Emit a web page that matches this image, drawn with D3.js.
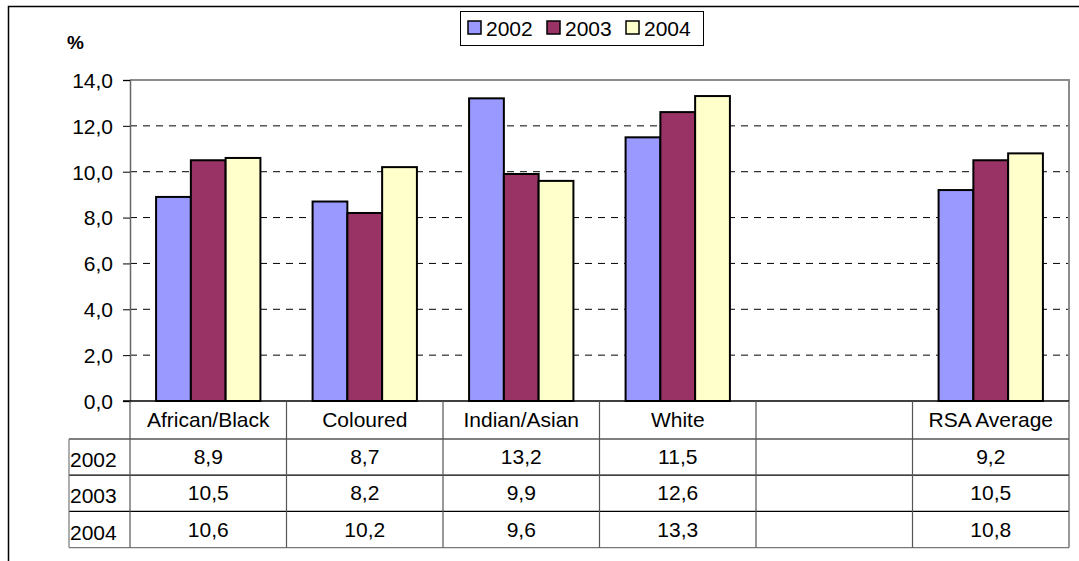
<!DOCTYPE html>
<html>
<head>
<meta charset="utf-8">
<script src="https://cdn.jsdelivr.net/npm/d3@7"></script>
<style>
  body { margin: 0; background: #fff; }
  svg { display: block; font-family: "Liberation Sans", Arial, sans-serif; }
</style>
</head>
<body>
<svg id="chart" width="1079" height="561"></svg>
<script>
// data
const categories = ["African/Black", "Coloured", "Indian/Asian", "White", "", "RSA Average"];
const years = ["2002", "2003", "2004"];
const values2002 = [8.9, 8.7, 13.2, 11.5, null, 9.2];
const values2003 = [10.5, 8.2, 9.9, 12.6, null, 10.5];
const values2004 = [10.6, 10.2, 9.6, 13.3, null, 10.8];
const yTicks = [0, 2, 4, 6, 8, 10, 12, 14];

const series = [
  { year: "2002", values: values2002, color: "#9999ff" },
  { year: "2003", values: values2003, color: "#993366" },
  { year: "2004", values: values2004, color: "#ffffcc" }
];

const fs = 21;
const fmt = v => d3.format(".1f")(v).replace(".", ",");

const svg = d3.select("#chart");
const plot = { left: 130, right: 1069, top: 80, bottom: 401 };
const rowH = 36.2, headH = 38;

// outer chart border (top and left only, cut off on the others)
svg.append("path")
  .attr("d", "M8.5,561 V6.5 H1079")
  .attr("fill", "none").attr("stroke", "#000").attr("stroke-width", 1.5);

const x = d3.scaleBand().domain(d3.range(categories.length)).range([plot.left, plot.right]);
const gap = x.bandwidth() / 6;
const x1 = d3.scaleBand().domain(years).range([gap, x.bandwidth() - gap]);
const y = d3.scaleLinear().domain([0, 14]).range([plot.bottom, plot.top]);

// gridlines
svg.append("g").selectAll("line")
  .data(yTicks.filter(d => d > 0 && d < 14))
  .join("line")
  .attr("x1", plot.left).attr("x2", plot.right)
  .attr("y1", d => y(d)).attr("y2", d => y(d))
  .attr("stroke", "#000").attr("stroke-dasharray", "7,6");

// plot area border
svg.append("path")
  .attr("d", `M${plot.left},${y(14)} H${plot.right} V${plot.bottom}`)
  .attr("fill", "none").attr("stroke", "#8c8c8c").attr("stroke-width", 2);

// y axis
const yAxis = svg.append("g")
  .attr("transform", `translate(${plot.left},0)`)
  .call(d3.axisLeft(y).tickValues(yTicks).tickSize(7).tickPadding(10).tickFormat(fmt));
yAxis.select(".domain").attr("stroke", "#666").attr("stroke-width", 1.5);
yAxis.selectAll(".tick line").attr("stroke", "#000");
yAxis.selectAll("text").attr("font-size", fs).attr("fill", "#000").attr("dy", "0.35em")
  .attr("font-family", "Liberation Sans, Arial, sans-serif");

svg.append("text")
  .attr("x", 67).attr("y", 49)
  .attr("font-size", 19).attr("font-weight", "bold")
  .text("%");

// bars
svg.append("g").selectAll("g")
  .data(series)
  .join("g")
  .attr("fill", d => d.color)
  .selectAll("rect")
  .data(s => s.values.map((v, i) => ({ i, v, year: s.year })).filter(d => d.v != null))
  .join("rect")
  .attr("x", d => x(d.i) + x1(d.year))
  .attr("width", x1.bandwidth())
  .attr("y", d => y(d.v))
  .attr("height", d => y(0) - y(d.v))
  .attr("stroke", "#000").attr("stroke-width", 2);

// zero baseline
svg.append("line")
  .attr("x1", plot.left - 7).attr("x2", plot.right)
  .attr("y1", y(0)).attr("y2", y(0))
  .attr("stroke", "#000").attr("stroke-width", 1.5);

// data table
const tLeft = 69;
const table = svg.append("g");
const rowTop = i => plot.bottom + headH + i * rowH;
const tBottom = rowTop(years.length);

// horizontal lines
table.selectAll("line.h")
  .data(d3.range(years.length + 1))
  .join("line")
  .attr("x1", tLeft).attr("x2", plot.right)
  .attr("y1", d => rowTop(d)).attr("y2", d => rowTop(d))
  .attr("stroke", (d, i) => i === years.length ? "#777" : "#000")
  .attr("stroke-width", 1.2);

// vertical lines
const vx = d3.range(categories.length + 1).map(i => i < categories.length ? x(i) : plot.right);
table.selectAll("line.v")
  .data(vx)
  .join("line")
  .attr("x1", d => d).attr("x2", d => d)
  .attr("y1", plot.bottom).attr("y2", tBottom)
  .attr("stroke", "#555").attr("stroke-width", 1.2);
table.append("line")
  .attr("x1", tLeft).attr("x2", tLeft)
  .attr("y1", rowTop(0)).attr("y2", tBottom)
  .attr("stroke", "#777").attr("stroke-width", 1.2);

// header labels
table.selectAll("text.cat")
  .data(categories)
  .join("text")
  .attr("x", (d, i) => x(i) + x.bandwidth() / 2)
  .attr("y", plot.bottom + headH / 2 + 7)
  .attr("text-anchor", "middle").attr("font-size", fs)
  .text(d => d);

// rows
series.forEach((s, r) => {
  table.append("text")
    .attr("x", tLeft + 1).attr("y", rowTop(r) + rowH / 2 + 10)
    .attr("font-size", fs)
    .text(s.year);
  table.selectAll(null)
    .data(s.values.map((v, i) => ({ v, i })).filter(d => d.v != null))
    .join("text")
    .attr("x", d => x(d.i) + x.bandwidth() / 2)
    .attr("y", rowTop(r) + rowH / 2 + 7)
    .attr("text-anchor", "middle").attr("font-size", fs)
    .text(d => fmt(d.v));
});

// legend
const legend = svg.append("g");
legend.append("rect")
  .attr("x", 460.5).attr("y", 11.5).attr("width", 243).attr("height", 34)
  .attr("fill", "#fff").attr("stroke", "#000");
const legX = d3.scalePoint().domain(years).range([468, 626]);
const item = legend.selectAll("g.item")
  .data(series)
  .join("g")
  .attr("transform", d => `translate(${legX(d.year)},21)`);
item.append("rect")
  .attr("width", 13).attr("height", 13)
  .attr("fill", d => d.color).attr("stroke", "#000").attr("stroke-width", 1.5);
item.append("text")
  .attr("x", 18).attr("y", 15)
  .attr("font-size", fs)
  .text(d => d.year);
</script>
</body>
</html>
